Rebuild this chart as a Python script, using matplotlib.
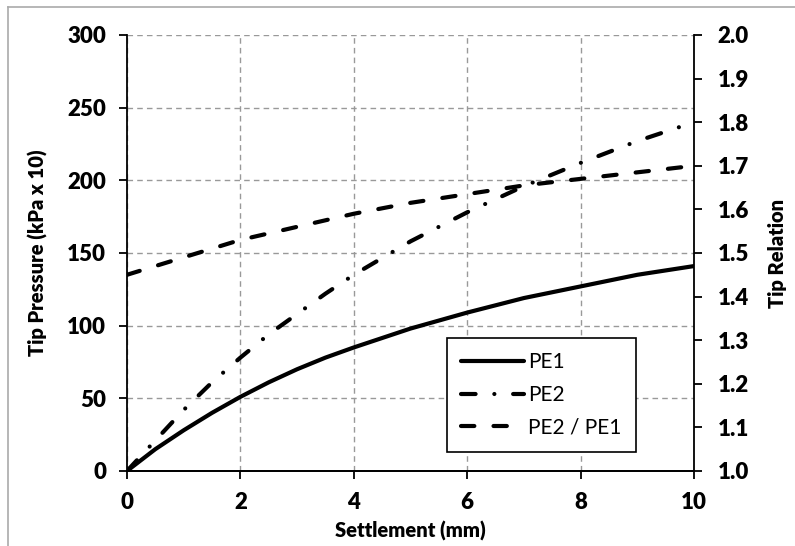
import matplotlib
matplotlib.use('Agg')
import matplotlib.pyplot as plt
from matplotlib.lines import Line2D

plt.rcParams['font.family'] = ['Lato', 'DejaVu Sans']

# settlement (mm)
settlement = [0, 0.5, 1, 1.5, 2, 2.5, 3, 3.5, 4, 5, 6, 7, 8, 9, 10]
# tip pressure (kPa x 10)
pe1 = [0, 15, 28, 40, 51, 61, 70, 78, 85, 98, 109, 119, 127, 135, 141]
pe2 = [0, 21, 42, 61, 78, 94, 108, 122, 135, 158, 178, 196, 212, 227, 240]
# tip relation PE2 / PE1
ratio = [1.45, 1.47, 1.49, 1.51, 1.53, 1.545, 1.56, 1.575, 1.59, 1.615, 1.635, 1.655, 1.67, 1.685, 1.70]

fig = plt.figure(figsize=(7.95, 5.46), dpi=100)
ax = fig.add_axes([0.1597, 0.1374, 0.873 - 0.1597, 0.9359 - 0.1374])
ax2 = ax.twinx()

lw = 3
l1, = ax.plot(settlement, pe1, color='black', lw=lw, solid_capstyle='round', label='PE1')
l2, = ax.plot(settlement, pe2, color='black', lw=lw, dashes=(3.5, 4.5, 0.01, 4.5),
              dash_capstyle='round', label='PE2')
l3, = ax2.plot(settlement, ratio, color='black', lw=lw, dashes=(3.2, 4.6),
               dash_capstyle='round', label='PE2 / PE1')

ax.set_xlim(0, 10)
ax.set_ylim(0, 300)
ax2.set_ylim(1.0, 2.0)
ax.set_xticks(range(0, 11, 2))
ax.set_yticks(range(0, 301, 50))
ax2.set_yticks([1.0 + 0.1 * i for i in range(11)])
ax2.set_yticklabels(['%.1f' % (1.0 + 0.1 * i) for i in range(11)])

ax.grid(True, color='#999999', linestyle=(0, (4, 3)), linewidth=1)
ax.set_axisbelow(True)

for a in (ax, ax2):
    a.spines['top'].set_visible(False)
    for s in a.spines.values():
        s.set_linewidth(1.3)
    a.tick_params(direction='out', length=6, width=1.3, labelsize=16, pad=9)
    for lab in a.get_xticklabels() + a.get_yticklabels():
        lab.set_fontweight('heavy')
ax2.spines['left'].set_visible(False)
ax.spines['right'].set_visible(False)
ax2.tick_params(pad=11)

ax.set_xlabel('Settlement (mm)', fontsize=14.5, fontweight='heavy', labelpad=6)
ax.set_ylabel('Tip Pressure (kPa x 10)', fontsize=14.5, fontweight='heavy', labelpad=14)
ax2.set_ylabel('Tip Relation', fontsize=14.5, fontweight='heavy', labelpad=14)

leg = ax2.legend(handles=[l1, l2, l3], loc='lower left', bbox_to_anchor=(0.564, 0.0436),
                 borderaxespad=0, fontsize=15, handlelength=3.0, labelspacing=0.6,
                 fancybox=False, framealpha=1, edgecolor='black', borderpad=0.7,
                 handletextpad=0.2)
leg.get_frame().set_linewidth(1.2)

# outer chart border (left and top edges)
fig.add_artist(Line2D([8 / 795, 8 / 795], [0, 1 - 7 / 546], color='#aaaaaa', lw=1.2))
fig.add_artist(Line2D([8 / 795, 1], [1 - 7 / 546, 1 - 7 / 546], color='#aaaaaa', lw=1.2))

fig.savefig('out.png', dpi=100)
